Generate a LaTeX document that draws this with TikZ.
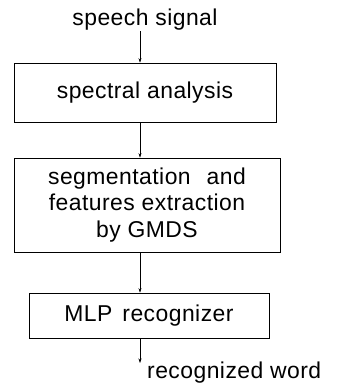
\documentclass[tikz,border=0pt]{standalone}
\usepackage{fontspec}
\setmainfont[LetterSpace=2]{Liberation Sans}
\usetikzlibrary{arrows.meta}
\begin{document}
\begin{tikzpicture}[x=1bp,y=-1bp,
  every node/.style={font=\fontsize{23}{27}\selectfont, inner sep=0pt},
  stage/.style={draw, line width=0.6pt, align=center},
  flow/.style={line width=0.5pt, -{Stealth[length=4.5bp,width=3bp]}}]
\useasboundingbox (0,0) rectangle (339,388);
% input label and processing chain
\node[anchor=base] (in) at (145,25) {speech signal};
\coordinate (intop) at (140,31);
\node[stage, minimum width=262bp, minimum height=59bp] (spec) at (145,92.5) {spectral analysis};
\node[stage, minimum width=266bp, minimum height=94bp] (seg) at (147,205)
  {segmentation\hspace{16bp}and\\ features extraction\\ by GMDS};
\node[stage, minimum width=240bp, minimum height=45bp, text height=14bp, text depth=2bp] (mlp) at (149,315.5)
  {MLP\hspace{10bp}recognizer};
% output
\coordinate (outend) at (140,363);
\node[anchor=base west] (out) at (147,378) {recognized word};
\draw[flow] (intop) -- (spec.north -| intop);
\draw[flow] (spec.south -| intop) -- (seg.north -| intop);
\draw[flow] (seg.south -| outend) -- (mlp.north -| outend);
\draw[flow] (mlp.south -| outend) -- (outend);
\end{tikzpicture}
\end{document}
